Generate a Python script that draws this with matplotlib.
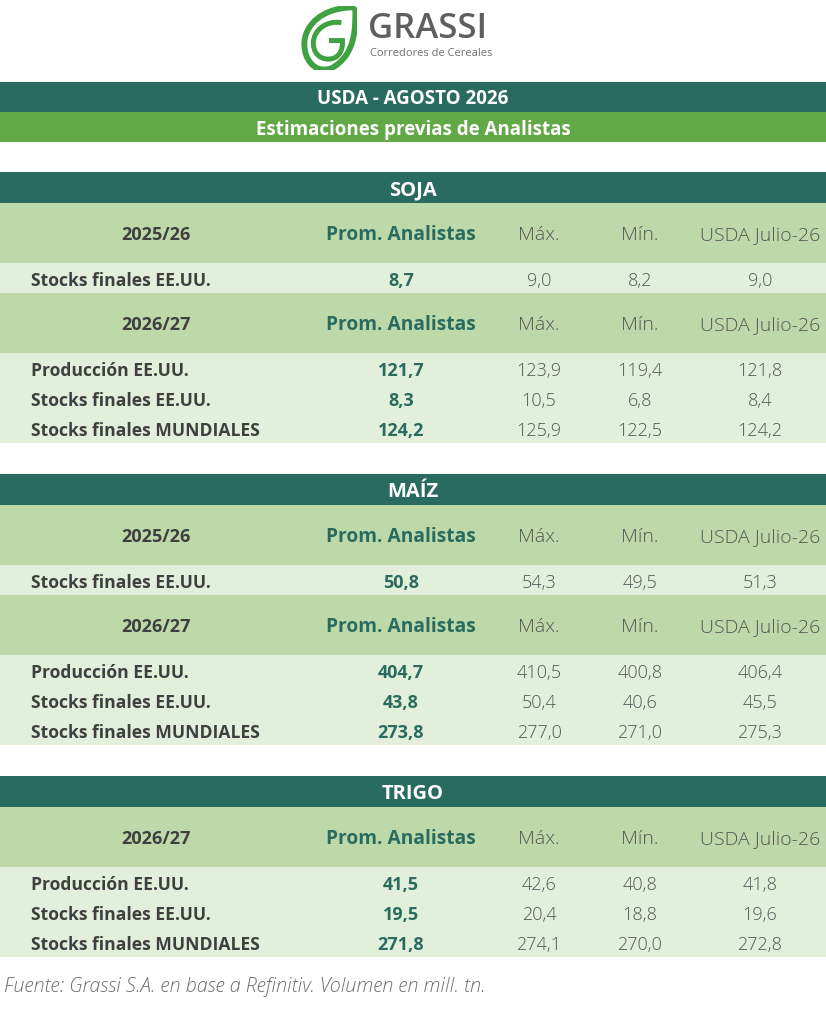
import matplotlib.pyplot as plt
from matplotlib.patches import Rectangle, PathPatch
from matplotlib.path import Path

plt.rcParams['font.family'] = ['Open Sans', 'DejaVu Sans']

# data
title = "USDA - AGOSTO 2026"
subtitle = "Estimaciones previas de Analistas"
columns = ["Prom. Analistas", "Máx.", "Mín.", "USDA Julio-26"]
footer = "Fuente: Grassi S.A. en base a Refinitiv. Volumen en mill. tn."

soja_2526_labels = ["Stocks finales EE.UU."]
soja_2526_prom = [8.7]
soja_2526_max = [9.0]
soja_2526_min = [8.2]
soja_2526_usda = [9.0]

soja_2627_labels = ["Producción EE.UU.", "Stocks finales EE.UU.", "Stocks finales MUNDIALES"]
soja_2627_prom = [121.7, 8.3, 124.2]
soja_2627_max = [123.9, 10.5, 125.9]
soja_2627_min = [119.4, 6.8, 122.5]
soja_2627_usda = [121.8, 8.4, 124.2]

maiz_2526_labels = ["Stocks finales EE.UU."]
maiz_2526_prom = [50.8]
maiz_2526_max = [54.3]
maiz_2526_min = [49.5]
maiz_2526_usda = [51.3]

maiz_2627_labels = ["Producción EE.UU.", "Stocks finales EE.UU.", "Stocks finales MUNDIALES"]
maiz_2627_prom = [404.7, 43.8, 273.8]
maiz_2627_max = [410.5, 50.4, 277.0]
maiz_2627_min = [400.8, 40.6, 271.0]
maiz_2627_usda = [406.4, 45.5, 275.3]

trigo_2627_labels = ["Producción EE.UU.", "Stocks finales EE.UU.", "Stocks finales MUNDIALES"]
trigo_2627_prom = [41.5, 19.5, 271.8]
trigo_2627_max = [42.6, 20.4, 274.1]
trigo_2627_min = [40.8, 18.8, 270.0]
trigo_2627_usda = [41.8, 19.6, 272.8]

sections = [
    ("SOJA", [("2025/26", soja_2526_labels, [soja_2526_prom, soja_2526_max, soja_2526_min, soja_2526_usda]),
              ("2026/27", soja_2627_labels, [soja_2627_prom, soja_2627_max, soja_2627_min, soja_2627_usda])]),
    ("MAÍZ", [("2025/26", maiz_2526_labels, [maiz_2526_prom, maiz_2526_max, maiz_2526_min, maiz_2526_usda]),
              ("2026/27", maiz_2627_labels, [maiz_2627_prom, maiz_2627_max, maiz_2627_min, maiz_2627_usda])]),
    ("TRIGO", [("2026/27", trigo_2627_labels, [trigo_2627_prom, trigo_2627_max, trigo_2627_min, trigo_2627_usda])]),
]

# colours / layout
DARK = "#2a6b5f"
GREEN = "#62a846"
HEAD = "#bdd9a9"
ROW = "#e2efda"
LABEL = "#3f3f3f"
VALUE = "#555555"
W = 826
col_x = [401, 539, 640, 760]
period_x = 156
label_x = 31


def fmt(v):
    return f"{v:.1f}".replace(".", ",")


fig = plt.figure(figsize=(8.26, 10.24), dpi=100)
ax = fig.add_axes([0, 0, 1, 1])
ax.set_xlim(0, W)
ax.set_ylim(1024, 0)
ax.axis("off")


def band(y, h, color):
    ax.add_patch(Rectangle((0, y), W, h, facecolor=color, edgecolor="none"))


# logo
lax = fig.add_axes([301 / W, 1 - 70 / 1024, 56 / W, 64 / 1024])
lax.set_xlim(0, 1)
lax.set_ylim(0, 1)
lax.axis("off")
outer = Path([(0.97, 0.98), (0.97, 0.7), (1.0, 0.25), (0.55, 0.03),
              (0.15, -0.1), (-0.05, 0.35), (0.12, 0.62),
              (0.3, 0.92), (0.7, 0.98), (0.97, 0.98)],
             [Path.MOVETO, Path.CURVE4, Path.CURVE4, Path.CURVE4,
              Path.CURVE4, Path.CURVE4, Path.CURVE4,
              Path.CURVE4, Path.CURVE4, Path.CURVE4])
lax.add_patch(PathPatch(outer, facecolor="none", edgecolor="#3fa142", lw=4.2, joinstyle="miter"))
inner = Path([(0.72, 0.74), (0.45, 0.78), (0.22, 0.62), (0.22, 0.42),
              (0.22, 0.2), (0.45, 0.12), (0.62, 0.2),
              (0.76, 0.28), (0.74, 0.44), (0.74, 0.46), (0.5, 0.46)],
             [Path.MOVETO, Path.CURVE4, Path.CURVE4, Path.CURVE4,
              Path.CURVE4, Path.CURVE4, Path.CURVE4,
              Path.CURVE4, Path.CURVE4, Path.CURVE4, Path.LINETO])
lax.add_patch(PathPatch(inner, facecolor="none", edgecolor="#3fa142", lw=3.6))
ax.text(368, 29, "GRASSI", fontsize=25, fontweight="semibold", color="#5f5f5f",
        ha="left", va="center")
ax.text(370, 54, "Corredores de Cereales", fontsize=8, color="#707070",
        ha="left", va="center")

# title bars
band(82, 30, DARK)
ax.text(W / 2, 99, title, fontsize=13.5, fontweight="bold", color="white", ha="center", va="center")
band(112, 30, GREEN)
ax.text(W / 2, 130, subtitle, fontsize=13.5, fontweight="bold", color="white", ha="center", va="center")

y = 172
for name, blocks in sections:
    band(y, 31, DARK)
    ax.text(W / 2, y + 18, name, fontsize=14.5, fontweight="bold", color="white", ha="center", va="center")
    y += 31
    for period, labels, values in blocks:
        band(y, 60, HEAD)
        ty = y + 32
        ax.text(period_x, ty, period, fontsize=13, fontweight="bold", color=LABEL, ha="center", va="center")
        for i, col in enumerate(columns):
            if i == 0:
                ax.text(col_x[i], ty, col, fontsize=13.8, fontweight="bold", color=DARK, ha="center", va="center")
            else:
                ax.text(col_x[i], ty, col, fontsize=14, fontweight="light", color=VALUE, ha="center", va="center")
        y += 60
        band(y, 30 * len(labels), ROW)
        for r, lab in enumerate(labels):
            ry = y + 30 * r + 18
            ax.text(label_x, ry, lab, fontsize=12.6, fontweight="bold", color=LABEL, ha="left", va="center")
            for i, series in enumerate(values):
                if i == 0:
                    ax.text(col_x[i], ry, fmt(series[r]), fontsize=13, fontweight="bold", color=DARK,
                            ha="center", va="center")
                else:
                    ax.text(col_x[i], ry, fmt(series[r]), fontsize=13, fontweight="light", color=VALUE,
                            ha="center", va="center")
        y += 30 * len(labels)
    y += 31

ax.text(4, 987, footer, fontsize=14.2, style="italic", fontweight="light", color="#6e6e6e",
        ha="left", va="center")

fig.savefig("out.png", dpi=100, facecolor="white")
